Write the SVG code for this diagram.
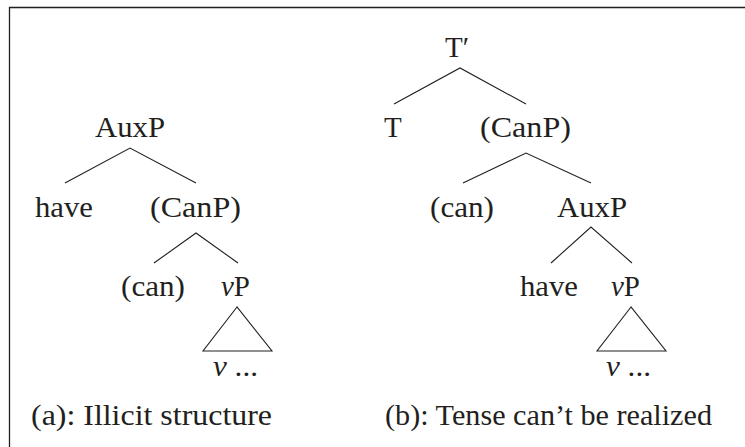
<svg xmlns="http://www.w3.org/2000/svg" width="745" height="447" viewBox="0 0 745 447">
<style>
text{font-family:"Liberation Serif","Times New Roman",serif;font-size:29px;fill:#231f20}
.it{font-style:italic}
.ln{stroke:#231f20;stroke-width:1.1;fill:none}
</style>
<rect width="745" height="447" fill="#fff"/>
<path d="M9.5,447 V7.5 H745" fill="none" stroke="#231f20" stroke-width="1.3"/>
<g id="connectors" class="ln">
<path d="M65,183 L130,148 L196,183"/>
<path d="M154,263 L196,233 L238,263"/>
<path d="M237,307 L203,351 L272,351 Z"/>
<path d="M394,104 L460,68 L526,104"/>
<path d="M463,183 L526,153 L591,183"/>
<path d="M551,263 L591,227 L632,263"/>
<path d="M631,307 L597,351 L666,351 Z"/>
</g>
<g id="a-AuxP"><text x="95" y="137" textLength="70" lengthAdjust="spacingAndGlyphs">AuxP</text></g>
<g id="a-have"><text x="35" y="217" textLength="58" lengthAdjust="spacingAndGlyphs">have</text></g>
<g id="a-CanP"><text x="150" y="217" textLength="91" lengthAdjust="spacingAndGlyphs">(CanP)</text></g>
<g id="a-can"><text x="121" y="296" textLength="64" lengthAdjust="spacingAndGlyphs">(can)</text></g>
<g id="a-vP"><text x="221" y="296" textLength="29" lengthAdjust="spacingAndGlyphs"><tspan class="it">v</tspan>P</text></g>
<g id="a-v"><text x="213" y="376" textLength="45" lengthAdjust="spacingAndGlyphs"><tspan class="it">v</tspan> ...</text></g>
<g id="a-caption"><text x="31" y="425" textLength="241" lengthAdjust="spacingAndGlyphs">(a): Illicit structure</text></g>
<g id="b-Tbar"><text x="445" y="57">T′</text></g>
<g id="b-T"><text x="384" y="137">T</text></g>
<g id="b-CanP"><text x="480" y="137" textLength="91" lengthAdjust="spacingAndGlyphs">(CanP)</text></g>
<g id="b-can"><text x="430" y="217" textLength="64" lengthAdjust="spacingAndGlyphs">(can)</text></g>
<g id="b-AuxP"><text x="557" y="217" textLength="70" lengthAdjust="spacingAndGlyphs">AuxP</text></g>
<g id="b-have"><text x="520" y="296" textLength="58" lengthAdjust="spacingAndGlyphs">have</text></g>
<g id="b-vP"><text x="611" y="296" textLength="29" lengthAdjust="spacingAndGlyphs"><tspan class="it">v</tspan>P</text></g>
<g id="b-v"><text x="606" y="376" textLength="45" lengthAdjust="spacingAndGlyphs"><tspan class="it">v</tspan> ...</text></g>
<g id="b-caption"><text x="385" y="425" textLength="327" lengthAdjust="spacingAndGlyphs">(b): Tense can’t be realized</text></g>
</svg>
